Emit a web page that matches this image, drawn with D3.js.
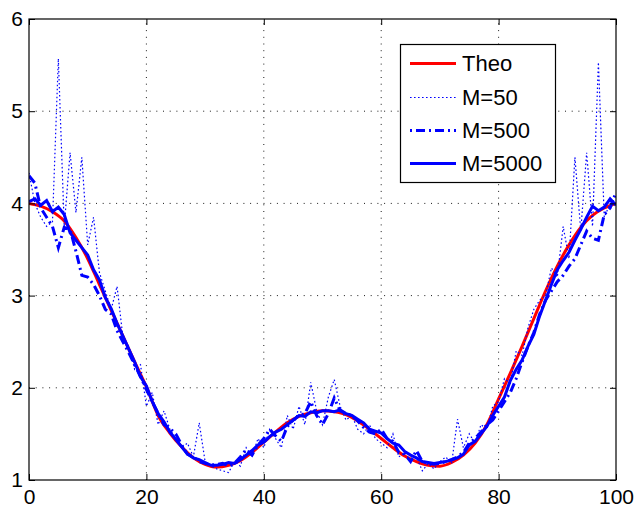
<!DOCTYPE html>
<html><head><meta charset="utf-8">
<script src="https://cdn.jsdelivr.net/npm/d3@7"></script>
<style>
html,body{margin:0;padding:0;background:#fff;}
text{font-family:"Liberation Sans",Arial,Helvetica,sans-serif;}
</style></head>
<body>
<svg id="chart" width="639" height="514"></svg>
<script>
const xTicks = [0, 20, 40, 60, 80, 100];
const yTicks = [1, 2, 3, 4, 5, 6];
const seriesNames = ["Theo", "M=50", "M=500", "M=5000"];

const theoX = [0,2,4,6,8,10,12,14,16,18,20,22,24,26,28,30,32,34,36,38,40,42,44,46,48,50,
  52,54,56,58,60,62,64,66,68,70,72,74,76,78,80,82,84,86,88,90,92,94,96,98,100];
const theoY = [4.00,3.97,3.91,3.81,3.63,3.40,3.12,2.84,2.56,2.28,2.01,1.70,1.51,1.36,1.24,1.17,1.14,1.16,1.21,1.30,1.41,1.52,1.62,1.69,1.73,1.75,
  1.74,1.71,1.64,1.55,1.45,1.35,1.26,1.20,1.16,1.15,1.19,1.27,1.40,1.60,1.88,2.16,2.45,2.75,3.05,3.32,3.55,3.74,3.87,3.95,4.00];

const mX = d3.range(0, 101);
const m50 = [4.33,4.00,3.85,3.75,3.80,5.57,3.75,4.55,3.90,4.50,3.55,3.85,3.25,3.05,2.85,3.10,2.55,2.45,2.20,2.25,
  1.80,1.95,1.60,1.75,1.55,1.45,1.35,1.40,1.25,1.62,1.20,1.15,1.12,1.10,1.08,1.20,1.15,1.35,1.25,1.45,
  1.35,1.55,1.45,1.35,1.70,1.55,1.80,1.60,2.06,1.75,1.60,1.90,2.09,1.80,1.65,1.70,1.55,1.50,1.60,1.45,
  1.40,1.35,1.50,1.25,1.30,1.20,1.25,1.10,1.18,1.12,1.20,1.25,1.18,1.66,1.35,1.50,1.40,1.60,1.55,1.80,
  1.85,2.10,2.05,2.40,2.35,2.65,2.85,2.95,3.00,3.30,3.20,3.75,3.40,4.50,3.70,4.55,3.75,5.53,3.85,4.00,4.05];
const m500 = [4.30,4.22,3.95,3.85,3.75,3.52,3.74,3.72,3.48,3.22,3.20,3.12,3.00,2.85,2.80,2.62,2.50,2.38,2.25,2.12,
  1.98,1.85,1.72,1.60,1.56,1.50,1.38,1.28,1.25,1.20,1.18,1.16,1.17,1.18,1.15,1.18,1.25,1.33,1.27,1.38,
  1.45,1.55,1.48,1.42,1.58,1.65,1.70,1.72,1.85,1.70,1.60,1.72,1.89,1.75,1.72,1.70,1.64,1.57,1.52,1.50,
  1.55,1.45,1.42,1.30,1.28,1.20,1.32,1.20,1.18,1.17,1.18,1.20,1.22,1.25,1.30,1.40,1.45,1.52,1.60,1.65,
  1.75,1.85,1.95,2.10,2.28,2.45,2.60,2.80,2.95,3.05,3.15,3.22,3.32,3.40,3.55,3.70,3.62,3.60,3.88,3.95,4.12];
const m5000 = [4.02,4.05,3.98,4.03,3.91,3.96,3.88,3.68,3.60,3.52,3.44,3.28,3.17,2.98,2.86,2.70,2.56,2.42,2.28,2.12,
  2.02,1.85,1.72,1.63,1.52,1.44,1.36,1.28,1.24,1.22,1.19,1.16,1.16,1.17,1.19,1.18,1.22,1.27,1.32,1.38,
  1.41,1.47,1.52,1.55,1.60,1.65,1.70,1.69,1.74,1.73,1.75,1.75,1.74,1.76,1.72,1.70,1.66,1.62,1.55,1.53,
  1.51,1.45,1.40,1.38,1.31,1.27,1.24,1.20,1.19,1.18,1.19,1.20,1.22,1.24,1.28,1.38,1.42,1.50,1.58,1.70,
  1.80,1.90,2.08,2.20,2.30,2.45,2.58,2.78,2.95,3.12,3.28,3.38,3.47,3.60,3.72,3.85,3.97,3.92,3.96,4.05,3.98];

const W = 639, H = 514;
const m = {left: 29, right: 23, top: 19, bottom: 34};
const x = d3.scaleLinear().domain([0, 100]).range([m.left, W - m.right]);
const y = d3.scaleLinear().domain([1, 6]).range([H - m.bottom, m.top]);

const svg = d3.select("#chart");
svg.append("defs").append("clipPath").attr("id","clip").append("rect")
  .attr("x", m.left).attr("y", m.top).attr("width", x(100)-x(0)).attr("height", y(1)-y(6));

// grid
const grid = svg.append("g");
grid.selectAll("line.gx").data(xTicks.slice(1, -1)).join("line")
  .attr("x1", d => x(d)).attr("x2", d => x(d)).attr("y1", y(1)).attr("y2", y(6))
  .attr("stroke", "#000").attr("stroke-width", 0.9).attr("stroke-dasharray", "1,5.7");
grid.selectAll("line.gy").data(yTicks.slice(1, -1)).join("line")
  .attr("y1", d => y(d)).attr("y2", d => y(d)).attr("x1", x(0)).attr("x2", x(100))
  .attr("stroke", "#000").attr("stroke-width", 0.9).attr("stroke-dasharray", "1,5.7");

// lines
const plot = svg.append("g").attr("clip-path", "url(#clip)");
const lineGen = d3.line().x(d => x(d[0])).y(d => y(d[1]));
const theoData = theoX.map((v, i) => [v, theoY[i]]);
plot.append("path").datum(theoData)
  .attr("d", lineGen.curve(d3.curveMonotoneX))
  .attr("fill", "none").attr("stroke", "#ff0000").attr("stroke-width", 3);
const lg = d3.line().x(d => x(d[0])).y(d => y(d[1]));
plot.append("path").datum(mX.map((v, i) => [v, m50[i]]))
  .attr("d", lg).attr("fill", "none").attr("stroke", "#0000ff").attr("stroke-width", 1.2)
  .attr("stroke-dasharray", "1.6,2.4");
plot.append("path").datum(mX.map((v, i) => [v, m500[i]]))
  .attr("d", lg).attr("fill", "none").attr("stroke", "#0000ff").attr("stroke-width", 3)
  .attr("stroke-dasharray", "9,4,2,4");
plot.append("path").datum(mX.map((v, i) => [v, m5000[i]]))
  .attr("d", lg).attr("fill", "none").attr("stroke", "#0000ff").attr("stroke-width", 3)
  .attr("stroke-linejoin", "miter");

// axes
const fs = 21;
const fmt = d3.format("d");
const ax = svg.append("g").attr("transform", `translate(0,${y(1)})`)
  .call(d3.axisBottom(x).tickValues(xTicks).tickFormat(fmt).tickSizeInner(-6).tickSizeOuter(0).tickPadding(9));
ax.selectAll("text").attr("font-size", fs).attr("fill", "#000");
const ay = svg.append("g").attr("transform", `translate(${x(0)},0)`)
  .call(d3.axisLeft(y).tickValues(yTicks).tickFormat(fmt).tickSizeInner(-6).tickSizeOuter(0).tickPadding(6));
ay.selectAll("text").attr("font-size", fs).attr("fill", "#000");
const at = svg.append("g").attr("transform", `translate(0,${y(6)})`)
  .call(d3.axisTop(x).tickValues(xTicks).tickSizeInner(-6).tickSizeOuter(0).tickFormat(""));
const ar = svg.append("g").attr("transform", `translate(${x(100)},0)`)
  .call(d3.axisRight(y).tickValues(yTicks).tickSizeInner(-6).tickSizeOuter(0).tickFormat(""));
[ax, ay, at, ar].forEach(g => {
  g.select(".domain").remove();
  g.selectAll("line").attr("stroke", "#000").attr("stroke-width", 1);
});
svg.append("rect").attr("x", x(0)).attr("y", y(6)).attr("width", x(100)-x(0)).attr("height", y(1)-y(6))
  .attr("fill", "none").attr("stroke", "#000").attr("stroke-width", 1.2);

// legend
const leg = svg.append("g");
leg.append("rect").attr("x", 400.5).attr("y", 44.5).attr("width", 155).attr("height", 138)
  .attr("fill", "#fff").attr("stroke", "#000").attr("stroke-width", 1.2);
const styles = [
  {c:"#ff0000", w:3, d:null},
  {c:"#0000ff", w:1.2, d:"1.6,2.4"},
  {c:"#0000ff", w:3, d:"2,4,9,4"},
  {c:"#0000ff", w:3, d:null}
];
const ly = [63.5, 97.5, 130.5, 163.5];
seriesNames.forEach((n, i) => {
  leg.append("line").attr("x1", 410).attr("x2", 456).attr("y1", ly[i]).attr("y2", ly[i])
    .attr("stroke", styles[i].c).attr("stroke-width", styles[i].w)
    .attr("stroke-dasharray", styles[i].d);
  leg.append("text").attr("x", 462).attr("y", ly[i]).attr("dy", "0.36em")
    .attr("font-size", 22).attr("fill", "#000").text(n);
});
</script>
</body></html>
